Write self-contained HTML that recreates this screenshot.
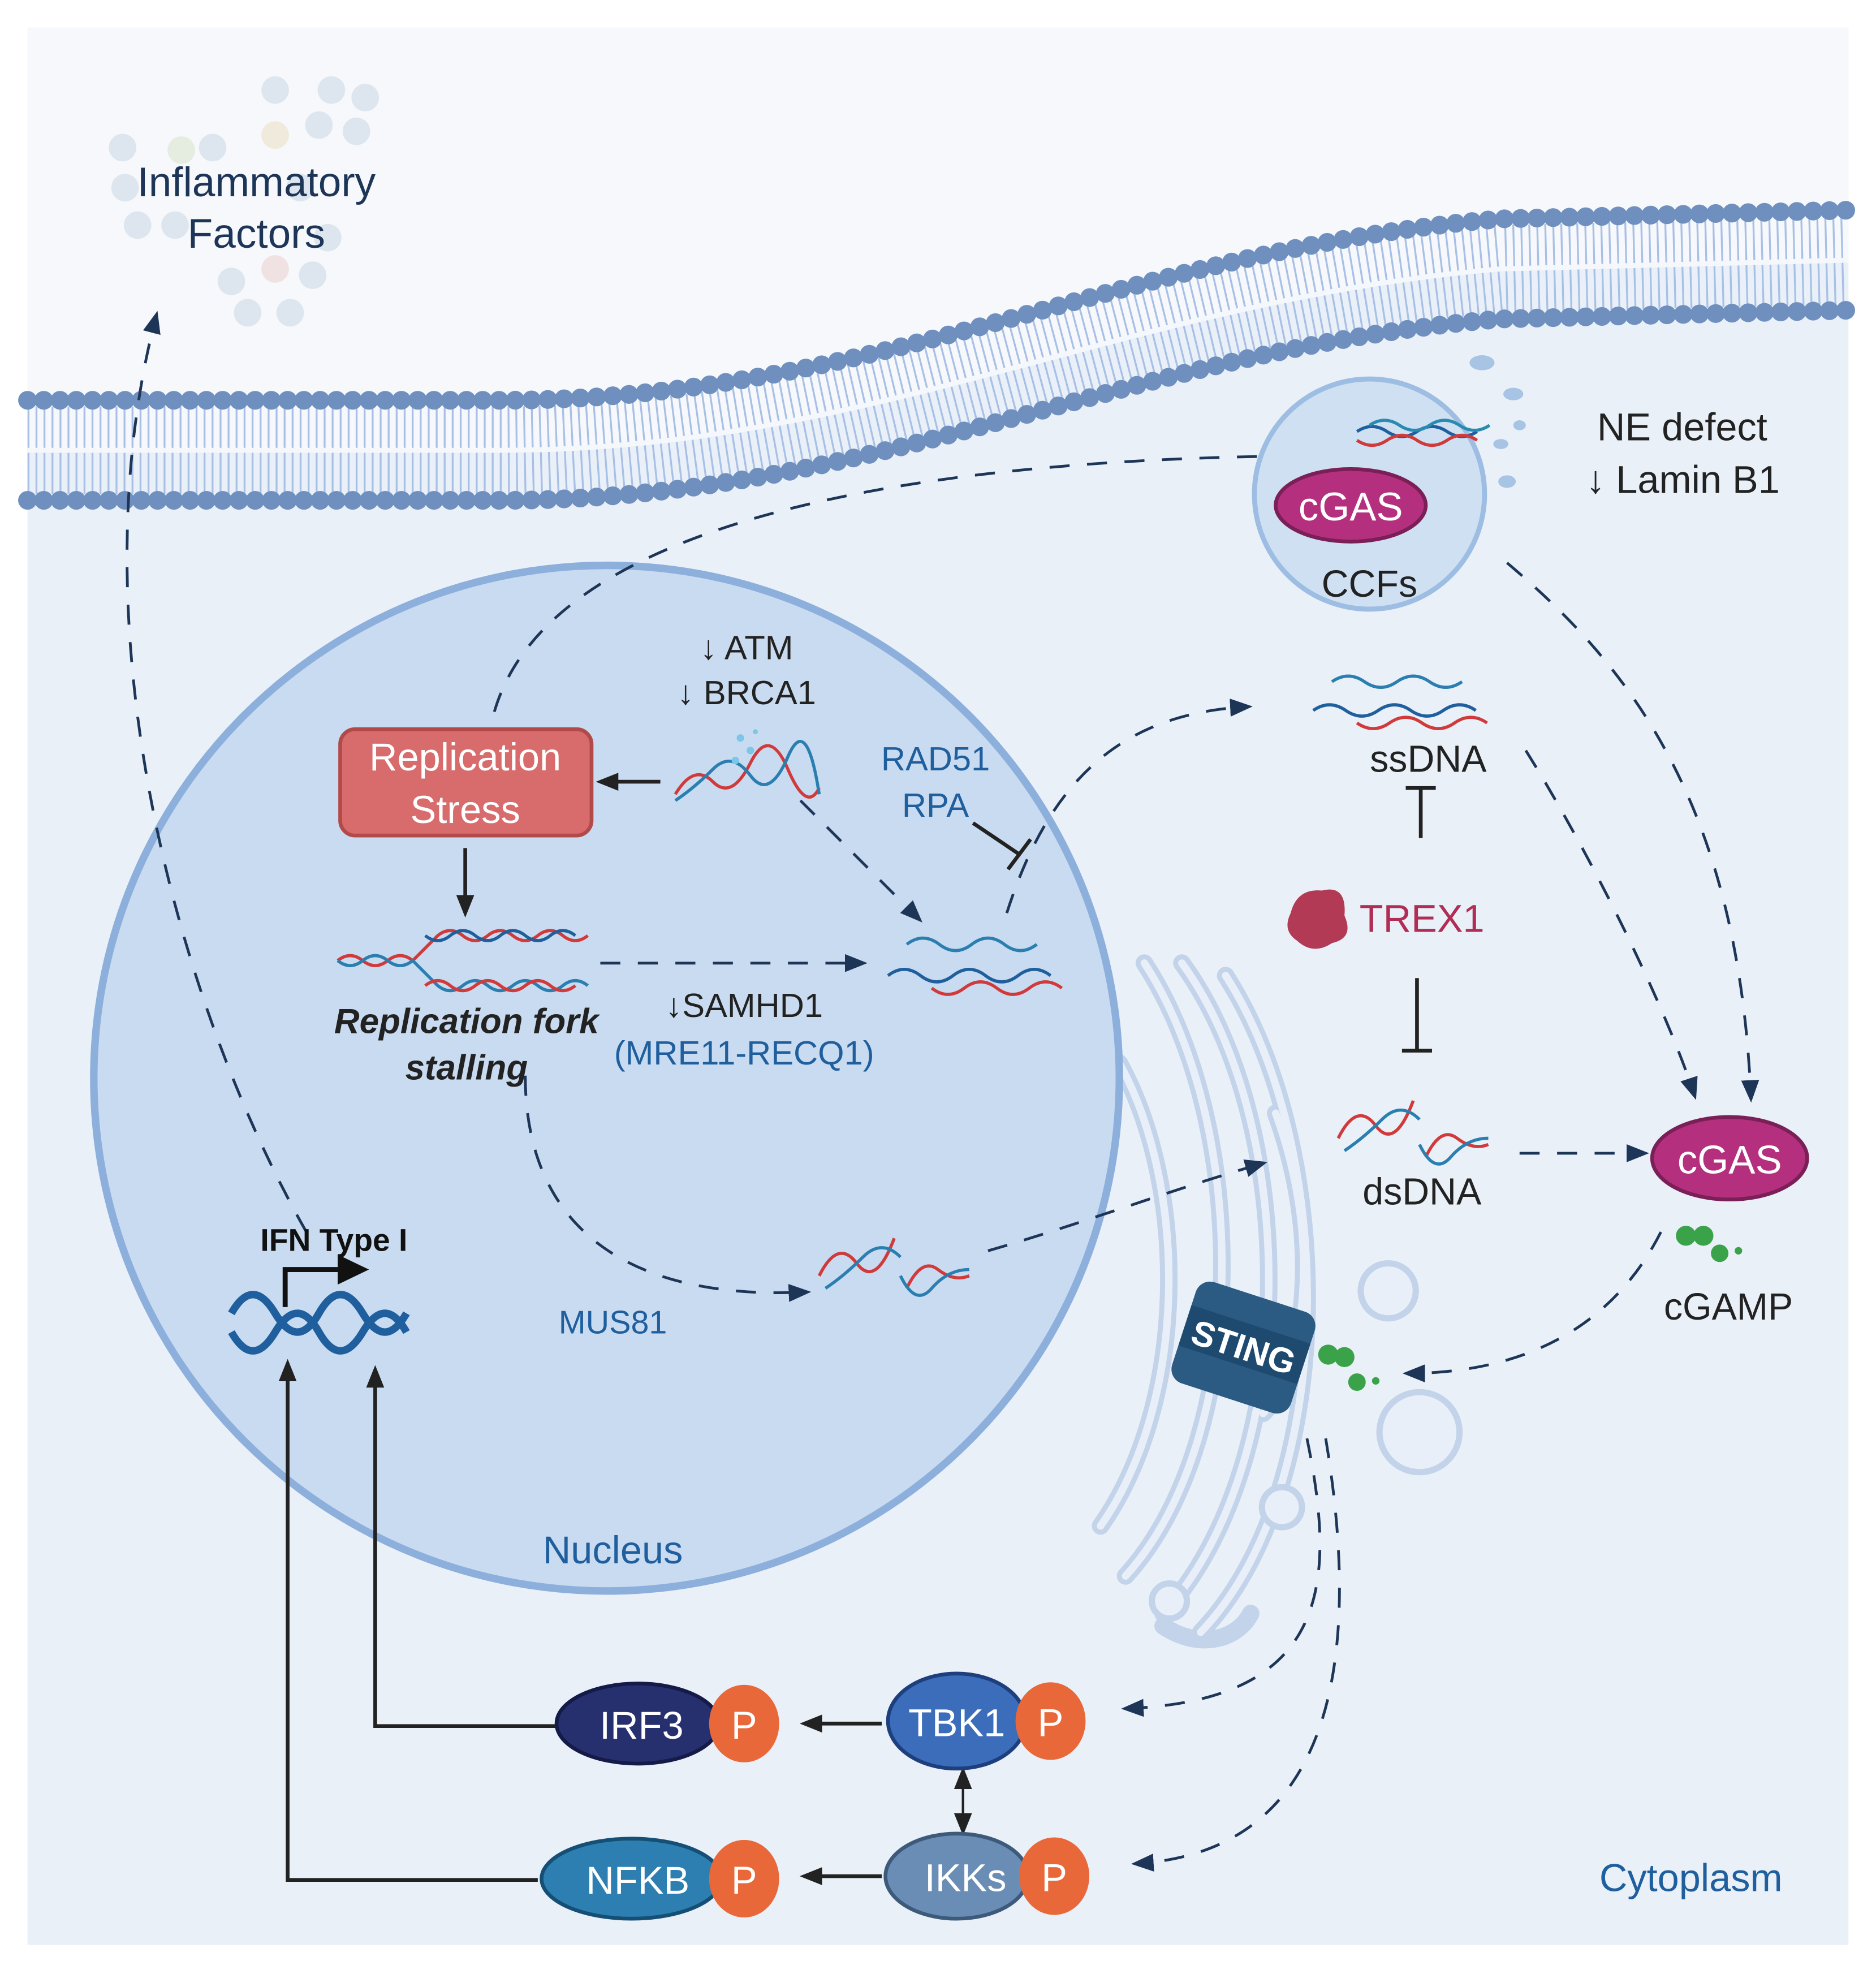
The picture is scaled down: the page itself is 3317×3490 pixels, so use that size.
<!DOCTYPE html>
<html><head><meta charset="utf-8"><style>
html,body{margin:0;padding:0;background:#fff}
svg{display:block}
text{font-family:"Liberation Sans",sans-serif}
</style></head><body>
<svg width="3317" height="3490" viewBox="0 0 1500 1578.2" xmlns="http://www.w3.org/2000/svg">
<defs>
<marker id="ahb" viewBox="0 0 10 10" refX="8" refY="5" markerWidth="18" markerHeight="18" orient="auto-start-reverse" markerUnits="userSpaceOnUse"><path d="M0,1 L10,5 L0,9 z" fill="#222"/></marker>
<marker id="ahd" viewBox="0 0 10 10" refX="8" refY="5" markerWidth="18" markerHeight="18" orient="auto" markerUnits="userSpaceOnUse"><path d="M0,1 L10,5 L0,9 z" fill="#1d3557"/></marker>
</defs>
<rect x="0" y="0" width="1500" height="1578" fill="#fff"/>
<rect x="22" y="22" width="1456" height="1533" fill="#e9f0f8"/>
<path d="M22,22 L1478,22 L1478,208 L1200,215 C900,240 700,360 400,360 L22,360 Z" fill="#f6f8fb"/>
<g fill="#dde6ee">
<circle cx="220" cy="72" r="11"/><circle cx="265" cy="72" r="11"/><circle cx="292" cy="78" r="11"/><circle cx="255" cy="100" r="11"/><circle cx="285" cy="105" r="11"/><circle cx="220" cy="108" r="11" fill="#f0eadc"/><circle cx="98" cy="118" r="11"/><circle cx="145" cy="120" r="11" fill="#e5ede0"/><circle cx="170" cy="118" r="11"/><circle cx="100" cy="150" r="11"/><circle cx="110" cy="180" r="11"/><circle cx="140" cy="180" r="11"/><circle cx="240" cy="150" r="11"/><circle cx="262" cy="190" r="11"/><circle cx="220" cy="215" r="11" fill="#f0e2e2"/><circle cx="185" cy="225" r="11"/><circle cx="250" cy="220" r="11"/><circle cx="198" cy="250" r="11"/><circle cx="232" cy="250" r="11"/>
</g>
<path d="M22,360 L400,360 C700,360 900,240 1200,215 L1478,208" fill="none" stroke="#a9c0e6" stroke-width="70" stroke-dasharray="1.5 4.9"/>
<path d="M22,360 L400,360 C700,360 900,240 1200,215 L1478,208" fill="none" stroke="#f4f7fb" stroke-width="4"/>
<path d="M22,320 L400,320 C700,320 900,200 1200,175 L1478,168" fill="none" stroke="#6f8fbf" stroke-width="15" stroke-linecap="round" stroke-dasharray="0 13"/>
<path d="M22,400 L400,400 C700,400 900,280 1200,255 L1478,248" fill="none" stroke="#6f8fbf" stroke-width="15" stroke-linecap="round" stroke-dasharray="0 13"/>
<!-- ER -->
<g fill="none" stroke="#c2d3ea" stroke-width="14" stroke-linecap="round">
<path d="M915,770 C1000,900 1000,1150 900,1260"/>
<path d="M945,770 C1040,900 1040,1170 930,1290"/>
<path d="M980,780 C1070,920 1070,1190 960,1305"/>
<path d="M1020,890 C1060,1000 1040,1100 1010,1130"/>
<path d="M895,850 C950,950 950,1120 880,1220"/>
<path d="M930,1300 C960,1320 990,1310 1000,1290"/>
</g>
<g fill="none" stroke="#e8eff8" stroke-width="6" stroke-linecap="round">
<path d="M915,770 C1000,900 1000,1150 900,1260"/>
<path d="M945,770 C1040,900 1040,1170 930,1290"/>
<path d="M980,780 C1070,920 1070,1190 960,1305"/>
<path d="M1020,890 C1060,1000 1040,1100 1010,1130"/>
<path d="M895,850 C950,950 950,1120 880,1220"/>
</g>
<g fill="#e8eff8" stroke="#c2d3ea" stroke-width="5">
<circle cx="1110" cy="1032" r="22"/><circle cx="1135" cy="1145" r="32"/><circle cx="1025" cy="1205" r="16"/><circle cx="935" cy="1280" r="14"/>
</g>
<circle cx="485" cy="862" r="410" fill="#c9dbf0" stroke="#8dafdc" stroke-width="6"/>
<circle cx="1095" cy="395" r="92" fill="#cfe0f3" stroke="#9dbde2" stroke-width="4"/>
<g fill="#a8c4e4"><ellipse cx="1185" cy="290" rx="10" ry="6"/><ellipse cx="1210" cy="315" rx="8" ry="5"/><ellipse cx="1200" cy="355" rx="6" ry="4"/><ellipse cx="1215" cy="340" rx="5" ry="4"/><ellipse cx="1205" cy="385" rx="7" ry="5"/></g>
<ellipse cx="1080" cy="404" rx="60" ry="29" fill="#b4307f" stroke="#7b1f57" stroke-width="3"/>
<text x="1080" y="416" font-size="32" fill="#fff" text-anchor="middle">cGAS</text>
<text x="1095" y="477" font-size="30" fill="#222" text-anchor="middle">CCFs</text>
<g fill="none" stroke-width="2.5"><path d="M1085,345 q12,-8 24,0 t24,0 t24,0 t24,0" stroke="#1f5f9e"/><path d="M1085,352 q12,8 24,0 t24,0 t24,0 t24,0" stroke="#d03a3a"/><path d="M1095,340 q12,-8 24,0 t24,0 t24,0 t24,0" stroke="#2a8bb0"/></g>
<text x="1277" y="352" font-size="31" fill="#222">NE defect</text>
<text x="1268" y="394" font-size="31" fill="#222">↓ Lamin B1</text>
<text x="205" y="157" font-size="33" fill="#1d3557" text-anchor="middle">Inflammatory</text>
<text x="205" y="198" font-size="33" fill="#1d3557" text-anchor="middle">Factors</text>
<g fill="none" stroke="#1d3557" stroke-width="2.2" stroke-dasharray="16 14">
<path d="M245,985 C140,800 60,500 125,252" marker-end="url(#ahd)"/>
<path d="M1005,365 C750,370 440,410 395,570"/>
<path d="M1205,450 C1300,530 1390,640 1400,878" marker-end="url(#ahd)"/>
<path d="M1220,600 C1270,680 1330,800 1355,876" marker-end="url(#ahd)"/>
<path d="M805,730 C840,620 900,570 998,565" marker-end="url(#ahd)"/>
<path d="M480,770 L690,770" marker-end="url(#ahd)"/>
<path d="M640,640 L735,735" marker-end="url(#ahd)"/>
<path d="M420,860 C420,980 500,1040 645,1033" marker-end="url(#ahd)"/>
<path d="M790,1000 C860,980 940,950 1010,930" marker-end="url(#ahd)"/>
<path d="M1215,922 L1315,922" marker-end="url(#ahd)"/>
<path d="M1328,985 C1290,1060 1220,1098 1125,1098" marker-end="url(#ahd)"/>
<path d="M1045,1150 C1070,1270 1060,1360 900,1366" marker-end="url(#ahd)"/>
<path d="M1060,1150 C1085,1300 1080,1480 908,1490" marker-end="url(#ahd)"/>
</g>
<rect x="272" y="583" width="201" height="85" rx="12" fill="#d86b6b" stroke="#b24a4a" stroke-width="3"/>
<text x="372" y="616" font-size="31" fill="#fff" text-anchor="middle">Replication</text>
<text x="372" y="658" font-size="31" fill="#fff" text-anchor="middle">Stress</text>
<g stroke="#222" stroke-width="3" fill="none">
<path d="M528,625 L480,625" marker-end="url(#ahb)"/>
<path d="M372,678 L372,730" marker-end="url(#ahb)"/>
<path d="M778,658 L815,683"/><path d="M806,695 L824,671"/>
<path d="M1136,670 L1136,630"/><path d="M1124,630 L1148,630"/>
<path d="M1133,782 L1133,840"/><path d="M1121,840 L1145,840"/>
<path d="M445,1380 L300,1380 L300,1095" marker-end="url(#ahb)"/>
<path d="M430,1503 L230,1503 L230,1090" marker-end="url(#ahb)"/>
<path d="M705,1378 L643,1378" marker-end="url(#ahb)"/>
<path d="M705,1500 L643,1500" marker-end="url(#ahb)"/>
<path d="M770,1416 L770,1464" stroke-width="2" marker-start="url(#ahb)" marker-end="url(#ahb)"/>
</g>
<g fill="none" stroke-width="2.5">
<path d="M540,635 q15,-25 30,-10 t30,-15 t30,5 t25,15" stroke="#d03a3a"/>
<path d="M540,640 q15,-10 30,-25 t30,5 t30,-15 t25,30" stroke="#2a7fb0"/>
<path d="M270,768 q10,-8 20,0 t20,0 t20,0 l20,-20 q10,-8 20,0 t20,0 t20,0 t20,0 t20,0 t20,0" stroke="#d03a3a"/>
<path d="M270,768 q10,8 20,0 t20,0 t20,0 l20,20 q10,8 20,0 t20,0 t20,0 t20,0 t20,0 t20,0" stroke="#2a7fb0"/>
<path d="M340,748 q10,8 20,0 t20,0 t20,0 t20,0 t20,0 t20,0" stroke="#1f5f9e"/>
<path d="M340,788 q10,-8 20,0 t20,0 t20,0 t20,0 t20,0 t20,0" stroke="#d03a3a"/>
<path d="M725,755 q13,-10 26,0 t26,0 t26,0 t26,0" stroke="#2a7fb0"/>
<path d="M710,780 q13,-10 26,0 t26,0 t26,0 t26,0 t26,0" stroke="#1f5f9e"/>
<path d="M745,790 q13,10 26,0 t26,0 t26,0 t26,0" stroke="#d03a3a"/>
<path d="M1065,545 q13,-9 26,0 t26,0 t26,0 t26,0" stroke="#2a7fb0"/>
<path d="M1050,568 q13,-9 26,0 t26,0 t26,0 t26,0 t26,0" stroke="#1f5f9e"/>
<path d="M1085,578 q13,9 26,0 t26,0 t26,0 t26,0" stroke="#d03a3a"/>
<path d="M655,1020 q15,-30 30,-10 t30,-20 M725,1030 q12,-25 25,-15 t25,5" stroke="#d03a3a"/>
<path d="M660,1030 q15,-10 30,-25 t30,0 M720,1020 q12,25 25,10 t30,-15" stroke="#2a7fb0"/>
<path d="M1070,910 q15,-30 30,-10 t30,-20 M1140,925 q12,-25 25,-15 t25,5" stroke="#d03a3a"/>
<path d="M1075,920 q15,-10 30,-25 t30,0 M1135,915 q12,25 25,10 t30,-15" stroke="#2a7fb0"/>
<path d="M185,1050 q17,-30 35,0 t35,0 t35,0 t35,0" stroke="#1f5f9e" stroke-width="6"/>
<path d="M185,1065 q17,30 35,0 t35,0 t35,0 t35,0" stroke="#1f5f9e" stroke-width="6"/>
</g>
<g fill="#7cc6e8"><circle cx="592" cy="590" r="3"/><circle cx="600" cy="600" r="3"/><circle cx="588" cy="608" r="3"/><circle cx="604" cy="585" r="2"/></g>
<path d="M228,1045 L228,1015 L275,1015" fill="none" stroke="#111" stroke-width="4"/>
<path d="M270,1003 L295,1015 L270,1027 Z" fill="#111"/>
<text x="267" y="1000" font-size="25" font-weight="bold" fill="#111" text-anchor="middle">IFN Type I</text>
<text x="597" y="527" font-size="27" fill="#222" text-anchor="middle">↓ ATM</text>
<text x="597" y="563" font-size="27" fill="#222" text-anchor="middle">↓ BRCA1</text>
<text x="748" y="616" font-size="27" fill="#1f5f9e" text-anchor="middle">RAD51</text>
<text x="748" y="653" font-size="27" fill="#1f5f9e" text-anchor="middle">RPA</text>
<text x="373" y="826" font-size="28" font-weight="bold" font-style="italic" fill="#222" text-anchor="middle">Replication fork</text>
<text x="373" y="863" font-size="28" font-weight="bold" font-style="italic" fill="#222" text-anchor="middle">stalling</text>
<text x="595" y="813" font-size="27" fill="#222" text-anchor="middle">↓SAMHD1</text>
<text x="595" y="851" font-size="27" fill="#1f5f9e" text-anchor="middle">(MRE11-RECQ1)</text>
<text x="490" y="1066" font-size="26" fill="#1f5f9e" text-anchor="middle">MUS81</text>
<text x="490" y="1250" font-size="31" fill="#1f5f9e" text-anchor="middle">Nucleus</text>
<text x="1142" y="617" font-size="30" fill="#222" text-anchor="middle">ssDNA</text>
<path d="M1032,730 q5,-20 25,-18 q20,-5 18,20 q8,18 -10,22 q-15,10 -28,-2 q-12,-8 -5,-22z" fill="#b23a55"/>
<text x="1087" y="745" font-size="31" fill="#b02d55">TREX1</text>
<text x="1137" y="963" font-size="30" fill="#222" text-anchor="middle">dsDNA</text>
<ellipse cx="1383" cy="926" rx="62" ry="33" fill="#b4307f" stroke="#7b1f57" stroke-width="3"/>
<text x="1383" y="938" font-size="32" fill="#fff" text-anchor="middle">cGAS</text>
<g fill="#3aa34a"><circle cx="1348" cy="988" r="8"/><circle cx="1362" cy="988" r="8"/><circle cx="1375" cy="1002" r="7"/><circle cx="1390" cy="1000" r="3"/></g>
<text x="1382" y="1055" font-size="30" fill="#222" text-anchor="middle">cGAMP</text>
<g transform="rotate(18 995 1075)">
<rect x="945" y="1035" width="100" height="85" rx="12" fill="#2b5b82"/>
<rect x="945" y="1058" width="100" height="34" fill="#1e4a70"/>
<text x="995" y="1087" font-size="28" font-weight="bold" fill="#fff" text-anchor="middle">STING</text>
</g>
<g fill="#3aa34a"><circle cx="1062" cy="1083" r="8"/><circle cx="1075" cy="1085" r="8"/><circle cx="1085" cy="1105" r="7"/><circle cx="1100" cy="1104" r="3"/></g>
<ellipse cx="510" cy="1378" rx="65" ry="32" fill="#27306e" stroke="#151b48" stroke-width="3"/>
<text x="513" y="1390" font-size="31" fill="#fff" text-anchor="middle">IRF3</text>
<ellipse cx="595" cy="1378" rx="28" ry="31" fill="#e8683a"/>
<text x="595" y="1390" font-size="31" fill="#fff" text-anchor="middle">P</text>
<ellipse cx="765" cy="1376" rx="55" ry="38" fill="#3c6dba" stroke="#1e3f7d" stroke-width="3"/>
<text x="765" y="1388" font-size="31" fill="#fff" text-anchor="middle">TBK1</text>
<ellipse cx="840" cy="1376" rx="28" ry="31" fill="#e8683a"/>
<text x="840" y="1388" font-size="31" fill="#fff" text-anchor="middle">P</text>
<ellipse cx="765" cy="1500" rx="57" ry="34" fill="#6a8db5" stroke="#3d5a7a" stroke-width="3"/>
<text x="772" y="1512" font-size="31" fill="#fff" text-anchor="middle">IKKs</text>
<ellipse cx="843" cy="1500" rx="28" ry="31" fill="#e8683a"/>
<text x="843" y="1512" font-size="31" fill="#fff" text-anchor="middle">P</text>
<ellipse cx="505" cy="1502" rx="72" ry="32" fill="#2c7fb0" stroke="#164f75" stroke-width="3"/>
<text x="510" y="1514" font-size="31" fill="#fff" text-anchor="middle">NFKB</text>
<ellipse cx="595" cy="1502" rx="28" ry="31" fill="#e8683a"/>
<text x="595" y="1514" font-size="31" fill="#fff" text-anchor="middle">P</text>
<text x="1352" y="1512" font-size="31" fill="#1f5f9e" text-anchor="middle">Cytoplasm</text>
</svg>
</body></html>
